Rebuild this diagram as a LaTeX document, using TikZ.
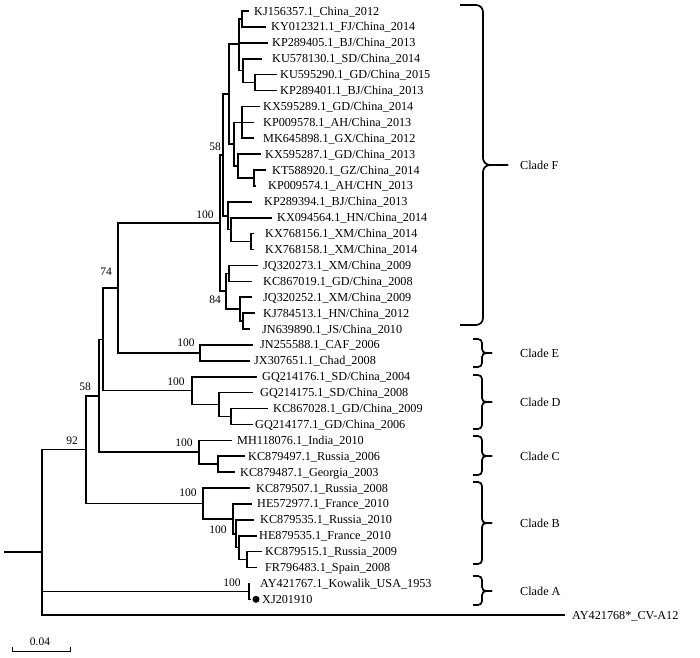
\documentclass[tikz,border=0pt]{standalone}
\usepackage{fontspec}
\setmainfont{Liberation Serif}
\tikzset{
  branch/.style={line width=1.6pt},
  bracket/.style={line width=1.7pt},
  leaf/.style={anchor=base west,inner sep=0pt,yshift=-4pt,font=\fontsize{12.2}{14}\selectfont},
  boot/.style={inner sep=0pt,font=\fontsize{11.5}{13}\selectfont},
  marker/.style={circle,fill=black,inner sep=0pt,minimum size=7pt},
  scalebar/.style={line width=0.8pt}
}

\begin{document}
\begin{tikzpicture}[x=1pt,y=-1pt]
\useasboundingbox (0,0) rectangle (700,657);
% tips
\coordinate (t1) at (249,11.0);
\coordinate (t2) at (266,26.9);
\coordinate (t3) at (268,42.8);
\coordinate (t4) at (262,58.7);
\coordinate (t5) at (277,74.6);
\coordinate (t6) at (277,90.5);
\coordinate (t7) at (260,106.4);
\coordinate (t8) at (254,122.3);
\coordinate (t9) at (254,138.2);
\coordinate (t10) at (261,154.1);
\coordinate (t11) at (266,170.0);
\coordinate (t12) at (256,185.9);
\coordinate (t13) at (252,201.8);
\coordinate (t14) at (272,217.7);
\coordinate (t15) at (254,233.6);
\coordinate (t16) at (254,249.5);
\coordinate (t17) at (258,265.4);
\coordinate (t18) at (252,281.3);
\coordinate (t19) at (252,297.2);
\coordinate (t20) at (255,313.1);
\coordinate (t21) at (250,329.0);
\coordinate (t22) at (253,344.9);
\coordinate (t23) at (250,360.8);
\coordinate (t24) at (257,376.7);
\coordinate (t25) at (253,392.6);
\coordinate (t26) at (268,408.5);
\coordinate (t27) at (253,424.4);
\coordinate (t28) at (232,440.3);
\coordinate (t29) at (245,456.2);
\coordinate (t30) at (235,472.1);
\coordinate (t31) at (250,488.0);
\coordinate (t32) at (252,503.9);
\coordinate (t33) at (254,519.8);
\coordinate (t34) at (257,535.7);
\coordinate (t35) at (262,551.6);
\coordinate (t36) at (257,567.5);
\coordinate (t37) at (250,583.4);
\coordinate (t38) at (251,599.3);
\coordinate (t39) at (565,615.2);
% taxa
\node[leaf] (l1) at (254,11.0) {KJ156357.1\_China\_2012};
\node[leaf] (l2) at (271,26.9) {KY012321.1\_FJ/China\_2014};
\node[leaf] (l3) at (272,42.8) {KP289405.1\_BJ/China\_2013};
\node[leaf] (l4) at (272,58.7) {KU578130.1\_SD/China\_2014};
\node[leaf] (l5) at (280,74.6) {KU595290.1\_GD/China\_2015};
\node[leaf] (l6) at (280,90.5) {KP289401.1\_BJ/China\_2013};
\node[leaf] (l7) at (263,106.4) {KX595289.1\_GD/China\_2014};
\node[leaf] (l8) at (263,122.3) {KP009578.1\_AH/China\_2013};
\node[leaf] (l9) at (263,138.2) {MK645898.1\_GX/China\_2012};
\node[leaf] (l10) at (265,154.1) {KX595287.1\_GD/China\_2013};
\node[leaf] (l11) at (272,170.0) {KT588920.1\_GZ/China\_2014};
\node[leaf] (l12) at (268,185.9) {KP009574.1\_AH/CHN\_2013};
\node[leaf] (l13) at (264,201.8) {KP289394.1\_BJ/China\_2013};
\node[leaf] (l14) at (277,217.7) {KX094564.1\_HN/China\_2014};
\node[leaf] (l15) at (265,233.6) {KX768156.1\_XM/China\_2014};
\node[leaf] (l16) at (265,249.5) {KX768158.1\_XM/China\_2014};
\node[leaf] (l17) at (263,265.4) {JQ320273.1\_XM/China\_2009};
\node[leaf] (l18) at (263,281.3) {KC867019.1\_GD/China\_2008};
\node[leaf] (l19) at (263,297.2) {JQ320252.1\_XM/China\_2009};
\node[leaf] (l20) at (263,313.1) {KJ784513.1\_HN/China\_2012};
\node[leaf] (l21) at (262,329.0) {JN639890.1\_JS/China\_2010};
\node[leaf] (l22) at (260,344.9) {JN255588.1\_CAF\_2006};
\node[leaf] (l23) at (254,360.8) {JX307651.1\_Chad\_2008};
\node[leaf] (l24) at (262,376.7) {GQ214176.1\_SD/China\_2004};
\node[leaf] (l25) at (260,392.6) {GQ214175.1\_SD/China\_2008};
\node[leaf] (l26) at (273,408.5) {KC867028.1\_GD/China\_2009};
\node[leaf] (l27) at (255,424.4) {GQ214177.1\_GD/China\_2006};
\node[leaf] (l28) at (237,440.3) {MH118076.1\_India\_2010};
\node[leaf] (l29) at (248,456.2) {KC879497.1\_Russia\_2006};
\node[leaf] (l30) at (240,472.1) {KC879487.1\_Georgia\_2003};
\node[leaf] (l31) at (256,488.0) {KC879507.1\_Russia\_2008};
\node[leaf] (l32) at (257,503.9) {HE572977.1\_France\_2010};
\node[leaf] (l33) at (260,519.8) {KC879535.1\_Russia\_2010};
\node[leaf] (l34) at (259,535.7) {HE879535.1\_France\_2010};
\node[leaf] (l35) at (265,551.6) {KC879515.1\_Russia\_2009};
\node[leaf] (l36) at (265,567.5) {FR796483.1\_Spain\_2008};
\node[leaf] (l37) at (260,583.4) {AY421767.1\_Kowalik\_USA\_1953};
\node[leaf] (l38) at (262,599.3) {XJ201910};
\node[leaf] (l39) at (572,615.2) {AY421768*\_CV-A12};
\node[marker] (m38) at (256,599.3) {};
% internal nodes
\coordinate (nRoot0) at (4,552.05);
\coordinate (nRoot) at (42,552.05);
\coordinate (n92) at (86,449.6);
\coordinate (n58) at (99,395.75);
\coordinate (nX) at (103,339.3);
\coordinate (n74) at (118,287.95);
\coordinate (nF) at (220,223.1);
\coordinate (nF58) at (223,154.95);
\coordinate (nU) at (229,94.15);
\coordinate (nU1) at (239,44.1);
\coordinate (nU1a) at (242,18.95);
\coordinate (nU1b) at (243,70.6);
\coordinate (nU1c) at (255,82.55);
\coordinate (nU2) at (234,144.15);
\coordinate (nU2a) at (242,122.3);
\coordinate (nU2b) at (238,166.0);
\coordinate (nU2c) at (254,177.95);
\coordinate (nG) at (228,215.7);
\coordinate (nG2) at (231,229.6);
\coordinate (nG3) at (251,241.55);
\coordinate (n84) at (226,291.2);
\coordinate (nFa) at (229,273.35);
\coordinate (nFb) at (240,309.1);
\coordinate (nFb2) at (243,321.05);
\coordinate (nE) at (200,352.85);
\coordinate (nD) at (192,390.6);
\coordinate (nD2) at (219,404.5);
\coordinate (nD3) at (231,416.45);
\coordinate (nC) at (199,452.2);
\coordinate (nC2) at (218,464.15);
\coordinate (nB) at (203,503.4);
\coordinate (nB2) at (233,518.8);
\coordinate (nB3) at (236,533.7);
\coordinate (nB4) at (239,547.6);
\coordinate (nB5) at (247,559.55);
\coordinate (nA) at (249,591.35);
% branches
\draw[branch] (nRoot0) -- (nRoot);
\draw[branch] (nRoot) |- (n92);
\draw[branch] (nRoot) |- (nA);
\draw[branch] (nRoot) |- (t39);
\draw[branch] (n92) |- (n58);
\draw[branch] (n92) |- (nB);
\draw[branch] (n58) |- (nX);
\draw[branch] (n58) |- (nC);
\draw[branch] (nX) |- (n74);
\draw[branch] (nX) |- (nD);
\draw[branch] (n74) |- (nF);
\draw[branch] (n74) |- (nE);
\draw[branch] (nF) |- (nF58);
\draw[branch] (nF) |- (n84);
\draw[branch] (nF58) |- (nU);
\draw[branch] (nF58) |- (nG);
\draw[branch] (nU) |- (nU1);
\draw[branch] (nU) |- (nU2);
\draw[branch] (nU1) |- (nU1a);
\draw[branch] (nU1) |- (t3);
\draw[branch] (nU1) |- (nU1b);
\draw[branch] (nU1a) |- (t1);
\draw[branch] (nU1a) |- (t2);
\draw[branch] (nU1b) |- (t4);
\draw[branch] (nU1b) |- (nU1c);
\draw[branch] (nU1c) |- (t5);
\draw[branch] (nU1c) |- (t6);
\draw[branch] (nU2) |- (nU2a);
\draw[branch] (nU2) |- (nU2b);
\draw[branch] (nU2a) |- (t7);
\draw[branch] (nU2a) |- (t8);
\draw[branch] (nU2a) |- (t9);
\draw[branch] (nU2b) |- (t10);
\draw[branch] (nU2b) |- (nU2c);
\draw[branch] (nU2c) |- (t11);
\draw[branch] (nU2c) |- (t12);
\draw[branch] (nG) |- (t13);
\draw[branch] (nG) |- (nG2);
\draw[branch] (nG2) |- (t14);
\draw[branch] (nG2) |- (nG3);
\draw[branch] (nG3) |- (t15);
\draw[branch] (nG3) |- (t16);
\draw[branch] (n84) |- (nFa);
\draw[branch] (n84) |- (nFb);
\draw[branch] (nFa) |- (t17);
\draw[branch] (nFa) |- (t18);
\draw[branch] (nFb) |- (t19);
\draw[branch] (nFb) |- (nFb2);
\draw[branch] (nFb2) |- (t20);
\draw[branch] (nFb2) |- (t21);
\draw[branch] (nE) |- (t22);
\draw[branch] (nE) |- (t23);
\draw[branch] (nD) |- (t24);
\draw[branch] (nD) |- (nD2);
\draw[branch] (nD2) |- (t25);
\draw[branch] (nD2) |- (nD3);
\draw[branch] (nD3) |- (t26);
\draw[branch] (nD3) |- (t27);
\draw[branch] (nC) |- (t28);
\draw[branch] (nC) |- (nC2);
\draw[branch] (nC2) |- (t29);
\draw[branch] (nC2) |- (t30);
\draw[branch] (nB) |- (t31);
\draw[branch] (nB) |- (nB2);
\draw[branch] (nB2) |- (t32);
\draw[branch] (nB2) |- (nB3);
\draw[branch] (nB3) |- (t33);
\draw[branch] (nB3) |- (nB4);
\draw[branch] (nB4) |- (t34);
\draw[branch] (nB4) |- (nB5);
\draw[branch] (nB5) |- (t35);
\draw[branch] (nB5) |- (t36);
\draw[branch] (nA) |- (t37);
\draw[branch] (nA) |- (t38);
% bootstrap values
\node[boot] (b92) at (72,441) {92};
\node[boot] (b58) at (85,387) {58};
\node[boot] (b74) at (106,272) {74};
\node[boot] (bF) at (205,215) {100};
\node[boot] (bF58) at (215,147) {58};
\node[boot] (b84) at (215,300) {84};
\node[boot] (bE) at (186,343) {100};
\node[boot] (bD) at (176,382) {100};
\node[boot] (bC) at (184,443) {100};
\node[boot] (bB) at (188,493) {100};
\node[boot] (bB3) at (218,530) {100};
\node[boot] (bA) at (232,583) {100};
% clade brackets
\draw[bracket,rounded corners=7pt] (460,5) -- (483,5) -- (483,165) -- (508,165);
\draw[bracket,rounded corners=7pt] (460,325) -- (483,325) -- (483,165) -- (508,165);
\node[leaf] (cF) at (520,165) {Clade F};
\draw[bracket,rounded corners=4pt] (473,339) -- (482,339) -- (482,353) -- (492,353);
\draw[bracket,rounded corners=4pt] (473,367) -- (482,367) -- (482,353) -- (492,353);
\node[leaf] (cE) at (520,353) {Clade E};
\draw[bracket,rounded corners=4pt] (473,375) -- (482,375) -- (482,402) -- (492,402);
\draw[bracket,rounded corners=4pt] (473,429) -- (482,429) -- (482,402) -- (492,402);
\node[leaf] (cD) at (520,402) {Clade D};
\draw[bracket,rounded corners=4pt] (473,436) -- (482,436) -- (482,456) -- (492,456);
\draw[bracket,rounded corners=4pt] (473,475) -- (482,475) -- (482,456) -- (492,456);
\node[leaf] (cC) at (520,456) {Clade C};
\draw[bracket,rounded corners=4pt] (473,482) -- (482,482) -- (482,523) -- (492,523);
\draw[bracket,rounded corners=4pt] (473,564) -- (482,564) -- (482,523) -- (492,523);
\node[leaf] (cB) at (520,523) {Clade B};
\draw[bracket,rounded corners=4pt] (473,576) -- (482,576) -- (482,591) -- (492,591);
\draw[bracket,rounded corners=4pt] (473,605) -- (482,605) -- (482,591) -- (492,591);
\node[leaf] (cA) at (520,591) {Clade A};
% scale bar
\coordinate (sb1) at (12,651);
\coordinate (sb2) at (70,651);
\draw[scalebar] (12,646.5) -- (sb1) -- (sb2) -- (70,646.5);
\node[boot] (sbl) at (40,642) {0.04};
\end{tikzpicture}
\end{document}
